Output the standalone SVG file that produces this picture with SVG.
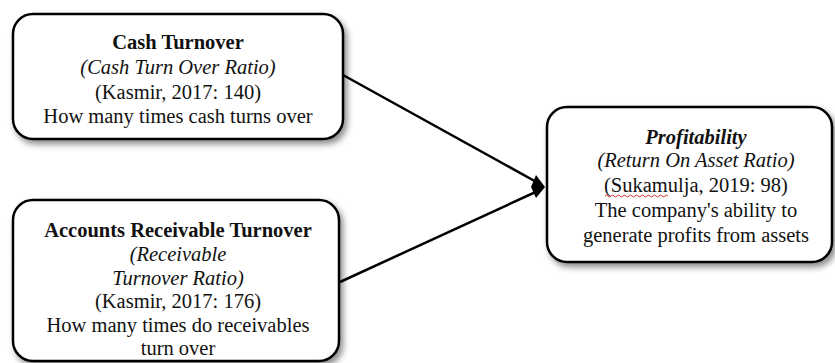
<svg xmlns="http://www.w3.org/2000/svg" width="835" height="363" viewBox="0 0 835 363">
<defs>
<filter id="sh" x="-10%" y="-10%" width="125%" height="130%">
<feDropShadow dx="3" dy="4" stdDeviation="3" flood-color="#000" flood-opacity="0.45"/>
</filter>
<style>
.box{fill:#fff;stroke:#000;stroke-width:2.5}
.t{font-family:"Liberation Serif","Times New Roman",serif;font-size:20.5px;fill:#111;text-anchor:middle}
.b{font-weight:bold}
.i{font-style:italic}
.c{stroke:#000;stroke-width:2.5;fill:none}
.head{fill:#000}
</style>
</defs>
<rect width="835" height="363" fill="#fff"/>
<g id="connectors">
<line class="c" x1="343" y1="75" x2="540" y2="184"/>
<line class="c" x1="340" y1="282" x2="540" y2="190"/>
<polygon class="head" points="545,187 536,175 531,187 536,198"/>
</g>
<g id="cash-turnover">
<rect class="box" x="13" y="14" width="330" height="125" rx="20" filter="url(#sh)"/>
<text class="t b" x="178" y="49">Cash Turnover</text>
<text class="t i" x="178" y="74">(Cash Turn Over Ratio)</text>
<text class="t" x="178" y="99">(Kasmir, 2017: 140)</text>
<text class="t" x="178" y="123">How many times cash turns over</text>
</g>
<g id="receivable-turnover">
<rect class="box" x="13" y="200" width="326" height="161" rx="20" filter="url(#sh)"/>
<text class="t b" x="178" y="237">Accounts Receivable Turnover</text>
<text class="t i" x="178" y="261">(Receivable</text>
<text class="t i" x="178" y="285">Turnover Ratio)</text>
<text class="t" x="178" y="308">(Kasmir, 2017: 176)</text>
<text class="t" x="178" y="332">How many times do receivables</text>
<text class="t" x="178" y="355">turn over</text>
</g>
<g id="profitability">
<rect class="box" x="547" y="107" width="285" height="155" rx="20" filter="url(#sh)"/>
<text class="t b i" x="696" y="144">Profitability</text>
<text class="t i" x="696" y="167">(Return On Asset Ratio)</text>
<text class="t" x="696" y="192">(Sukamulja, 2019: 98)</text>
<path d="M605,196 q1.5,-2 3,0 t3,0 t3,0 t3,0 t3,0 t3,0 t3,0 t3,0 t3,0 t3,0 t3,0 t3,0 t3,0 t3,0 t3,0 t3,0 t3,0 t3,0 t3,0 t3,0 t3,0" fill="none" stroke="#d33" stroke-width="1"/>
<text class="t" x="696" y="217">The company's ability to</text>
<text class="t" x="696" y="242">generate profits from assets</text>
</g>
</svg>
